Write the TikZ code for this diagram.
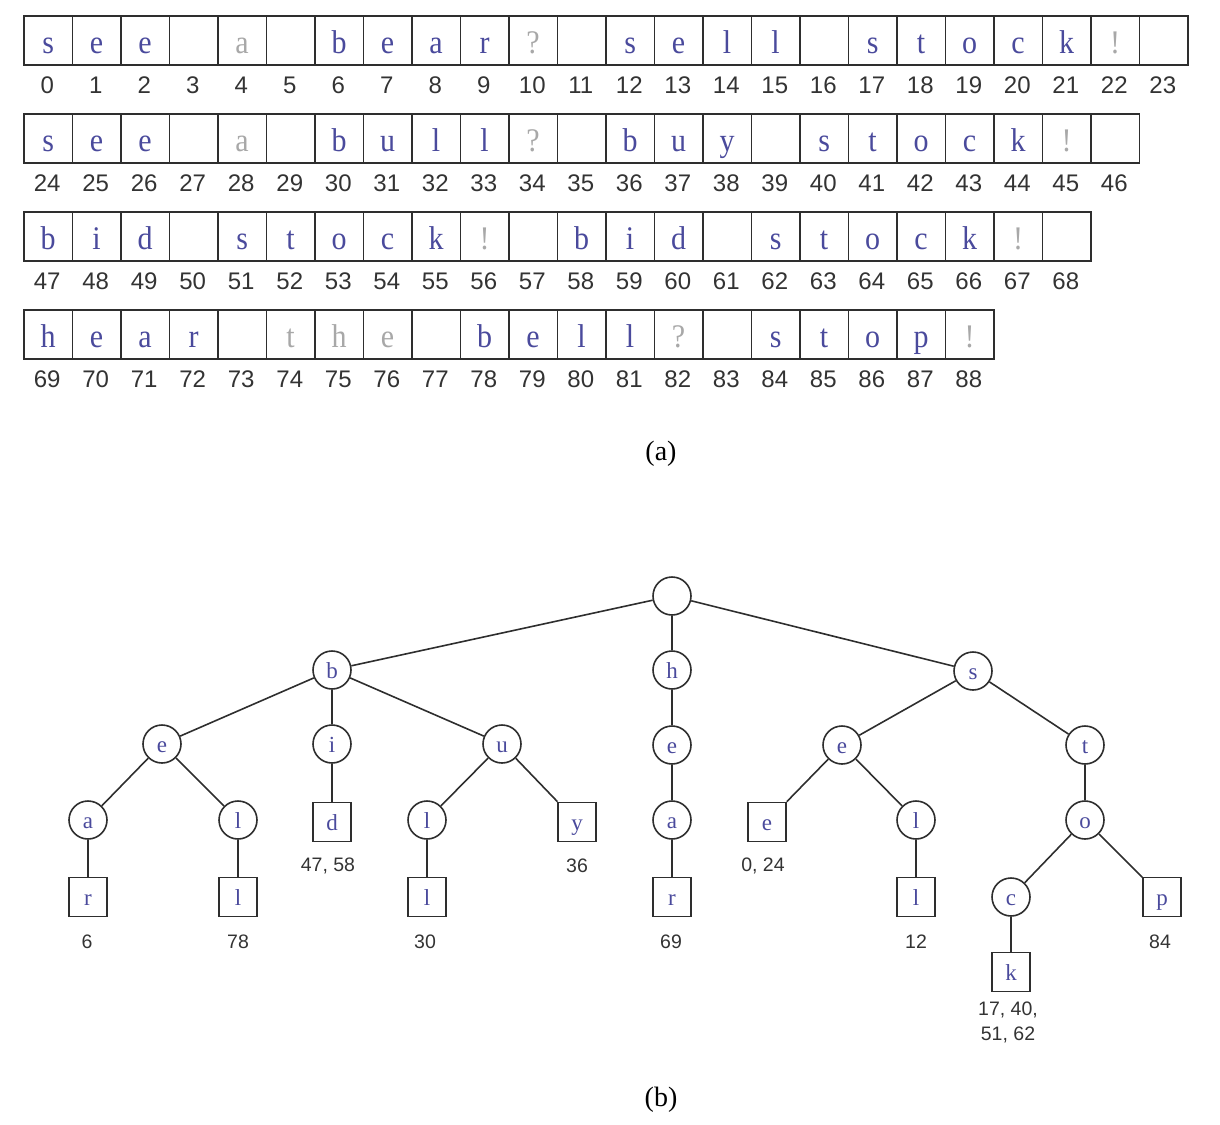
\documentclass[tikz,border=0pt]{standalone}
\usepackage{fontspec}
\setmainfont{Liberation Serif}
\newfontfamily\arialf{Liberation Sans}
\usepackage{graphicx}
\definecolor{linec}{HTML}{2E2E2E}
\definecolor{letc}{HTML}{4A4A9C}
\definecolor{grayc}{HTML}{A8A8A8}
\definecolor{numc}{HTML}{333333}
\newcommand\cellrow[3]{%
  \foreach \ltr/\kind [count=\j from 0] in {#3} {%
    \pgfmathtruncatemacro\num{#2+\j}%
    \node[cell,\kind] (c\num) at ({23+48.5*\j}, {15+98*#1}) {\scalebox{1}[1.1]{\ltr}};
    \node[idx] (n\num) at ({23+48.5*\j+24.25}, {15+98*#1+49+29}) {\num};
  }}
\begin{document}
\begin{tikzpicture}[x=1pt,y=-1pt,
  cell/.style={draw=linec, line width=1.7pt, minimum width=48.5pt, minimum height=49pt,
    inner sep=0pt, anchor=north west, text height=27pt, text depth=0pt,
    font=\fontsize{30}{30}\selectfont},
  lb/.style={text=letc}, lg/.style={text=grayc}, ln/.style={},
  idx/.style={anchor=base, inner sep=0pt, text=numc, font=\arialf\fontsize{24}{24}\selectfont},
  tc/.style={circle, draw=linec, line width=1.6pt, minimum size=38pt, inner sep=0pt,
    text=letc, text height=16pt, text depth=0pt, font=\fontsize{23}{23}\selectfont},
  ts/.style={rectangle, draw=linec, line width=1.6pt, minimum width=38pt, minimum height=39pt,
    inner sep=0pt, text=letc, text height=16pt, text depth=0pt, font=\fontsize{23}{23}\selectfont},
  edge/.style={draw=linec, line width=1.6pt},
  lab/.style={inner sep=0pt, text=numc, font=\arialf\fontsize{19.5}{25}\selectfont, align=center},
  captxt/.style={inner sep=0pt, font=\fontsize{28}{28}\selectfont}]
\useasboundingbox (0,0) rectangle (1220,1124);

% (a) the text array
\cellrow{0}{0}{s/lb, e/lb, e/lb, {}/ln, a/lg, {}/ln, b/lb, e/lb, a/lb, r/lb, ?/lg, {}/ln, s/lb, e/lb, l/lb, l/lb, {}/ln, s/lb, t/lb, o/lb, c/lb, k/lb, !/lg, {}/ln}
\cellrow{1}{24}{s/lb, e/lb, e/lb, {}/ln, a/lg, {}/ln, b/lb, u/lb, l/lb, l/lb, ?/lg, {}/ln, b/lb, u/lb, y/lb, {}/ln, s/lb, t/lb, o/lb, c/lb, k/lb, !/lg, {}/ln}
\cellrow{2}{47}{b/lb, i/lb, d/lb, {}/ln, s/lb, t/lb, o/lb, c/lb, k/lb, !/lg, {}/ln, b/lb, i/lb, d/lb, {}/ln, s/lb, t/lb, o/lb, c/lb, k/lb, !/lg, {}/ln}
\cellrow{3}{69}{h/lb, e/lb, a/lb, r/lb, {}/ln, t/lg, h/lg, e/lg, {}/ln, b/lb, e/lb, l/lb, l/lb, ?/lg, {}/ln, s/lb, t/lb, o/lb, p/lb, !/lg}

\node[captxt] (capa) at (661,454) {(a)};

% (b) the trie
\node[tc] (root) at (672,596) {};
\node[tc] (b) at (332,670) {b};
\node[tc] (h) at (672,670) {h};
\node[tc] (s) at (973,671) {s};
\node[tc] (be) at (162,744) {e};
\node[tc] (bi) at (332,744) {i};
\node[tc] (bu) at (502,744) {u};
\node[tc] (he) at (672,745) {e};
\node[tc] (se) at (842,745) {e};
\node[tc] (st) at (1085,745) {t};
\node[tc] (bea) at (88,820) {a};
\node[tc] (bel) at (238,820) {l};
\node[ts] (bid) at (332,822) {d};
\node[tc] (bul) at (427,820) {l};
\node[ts] (buy) at (577,822) {y};
\node[tc] (hea) at (672,820) {a};
\node[ts] (see) at (767,822) {e};
\node[tc] (sel) at (916,820) {l};
\node[tc] (sto) at (1085,820) {o};
\node[ts] (bear) at (88,897) {r};
\node[ts] (bell) at (238,897) {l};
\node[ts] (bull) at (427,897) {l};
\node[ts] (hear) at (672,897) {r};
\node[ts] (sell) at (916,897) {l};
\node[tc] (stoc) at (1011,897) {c};
\node[ts] (stop) at (1162,897) {p};
\node[ts] (stock) at (1011,972) {k};

\foreach \u/\v in {root/b, root/h, root/s, b/be, b/bi, b/bu, be/bea, be/bel, bea/bear, bel/bell,
  bi/bid, bu/bul, bu/buy, bul/bull, h/he, he/hea, hea/hear, s/se, s/st, se/see, se/sel,
  sel/sell, st/sto, sto/stoc, sto/stop, stoc/stock}
  \draw[edge] (\u) -- (\v);

\node[lab] (l6) at (87,942) {6};
\node[lab] (l78) at (238,942) {78};
\node[lab] (l4758) at (328,866) {47, 58};
\node[lab] (l30) at (425,942) {30};
\node[lab] (l36) at (577,866) {36};
\node[lab] (l69) at (671,942) {69};
\node[lab] (l024) at (763,866) {0, 24};
\node[lab] (l12) at (916,942) {12};
\node[lab] (l84) at (1160,942) {84};
\node[lab] (lk) at (1008,1022) {17, 40,\\51, 62};

\node[captxt] (capb) at (661,1100) {(b)};
\end{tikzpicture}
\end{document}
